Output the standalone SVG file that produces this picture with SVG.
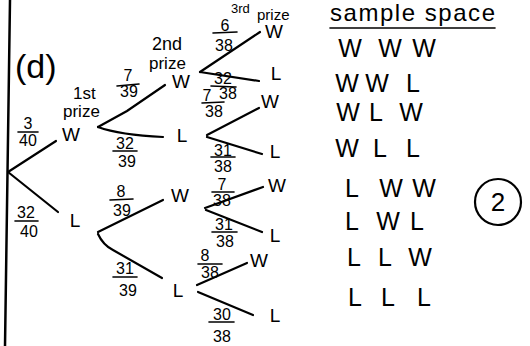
<svg xmlns="http://www.w3.org/2000/svg" width="530" height="346" viewBox="0 0 530 346">
<style>
text{font-family:"Liberation Sans",Arial,sans-serif;fill:#000}
.n{font-size:19px;text-anchor:middle}
.f{font-size:16px;text-anchor:middle}
.s{font-size:25px;text-anchor:middle}
.h{font-size:17px}
line,path,polyline{stroke:#000;stroke-width:2.2;fill:none;stroke-linecap:round}
.fb{stroke-width:1.6}
</style>
<rect width="530" height="346" fill="#fff"/>
<line x1="10" y1="0" x2="5" y2="346" style="stroke-width:2.5"/>
<text x="15" y="78" style="font-size:34px">(d)</text>
<g id="headings">
<text x="73" y="99" class="h">1st</text>
<text x="63" y="117" class="h">prize</text>
<text x="152" y="50" class="h" style="font-size:18px">2nd</text>
<text x="149" y="69" class="h">prize</text>
<text x="231" y="13" class="h" style="font-size:13px">3rd</text>
<text x="257" y="20" class="h" style="font-size:15px">prize</text>
</g>
<g id="connectors">
<polyline points="8,172 56,141"/>
<polyline points="8,172 58,212"/>
<path d="M98,127 L127,111 L165,85"/>
<path d="M98,127 Q120,135 163,137"/>
<path d="M98,232 L163,200"/>
<path d="M98,234 Q103,245 113,250 L162,278"/>
<path d="M200,72 L260,32"/>
<path d="M200,72 L259,81"/>
<path d="M207,135 L259,108"/>
<path d="M207,137 L262,154"/>
<path d="M205,208 L263,187"/>
<path d="M206,210 L262,232"/>
<path d="M197,285 L247,263"/>
<path d="M198,292 L253,315"/>
</g>
<g id="probabilities">
<text x="28" y="129" class="f">3</text><line class="fb" x1="18" y1="132" x2="38" y2="132"/><text x="28" y="146" class="f">40</text>
<text x="26" y="218" class="f">32</text><line class="fb" x1="15" y1="221" x2="38" y2="221"/><text x="29" y="237" class="f">40</text>
<text x="128" y="81" class="f">7</text><line class="fb" x1="117" y1="86" x2="139" y2="84"/><text x="129" y="97" class="f">39</text>
<text x="125" y="149" class="f">32</text><line class="fb" x1="113" y1="151" x2="137" y2="151"/><text x="127" y="167" class="f">39</text>
<text x="121" y="197" class="f">8</text><line class="fb" x1="110" y1="200" x2="133" y2="199"/><text x="122" y="216" class="f">39</text>
<text x="125" y="274" class="f">31</text><line class="fb" x1="113" y1="277" x2="137" y2="277"/><text x="128" y="296" class="f">39</text>
<text x="225" y="31" class="f">6</text><line class="fb" x1="213" y1="33" x2="237" y2="32"/><text x="224" y="51" class="f">38</text>
<text x="223" y="84" class="f">32</text><line class="fb" x1="211" y1="86" x2="236" y2="87"/><text x="228" y="99" class="f">38</text>
<text x="207" y="101" class="f">7</text><line class="fb" x1="202" y1="103" x2="224" y2="102"/><text x="214" y="117" class="f">38</text>
<text x="223" y="156" class="f">31</text><line class="fb" x1="211" y1="157" x2="235" y2="157"/><text x="223" y="172" class="f">38</text>
<text x="222" y="190" class="f">7</text><line class="fb" x1="212" y1="192" x2="234" y2="192"/><text x="222" y="206" class="f">38</text>
<text x="224" y="230" class="f">31</text><line class="fb" x1="212" y1="232" x2="237" y2="232"/><text x="225" y="247" class="f">38</text>
<text x="205" y="261" class="f">8</text><line class="fb" x1="198" y1="264" x2="222" y2="264"/><text x="210" y="278" class="f">38</text>
<text x="222" y="320" class="f">30</text><line class="fb" x1="209" y1="322" x2="234" y2="322"/><text x="222" y="342" class="f">38</text>
</g>
<g id="node-W1"><text x="71" y="141" class="n">W</text></g>
<g id="node-L1"><text x="75" y="227" class="n">L</text></g>
<g id="node-WW"><text x="181" y="88" class="n">W</text></g>
<g id="node-WL"><text x="182" y="142" class="n">L</text></g>
<g id="node-LW"><text x="180" y="202" class="n">W</text></g>
<g id="node-LL"><text x="178" y="297" class="n">L</text></g>
<g id="node-WWW"><text x="274" y="38" class="n">W</text></g>
<g id="node-WWL"><text x="276" y="80" class="n">L</text></g>
<g id="node-WLW"><text x="270" y="108" class="n">W</text></g>
<g id="node-WLL"><text x="275" y="158" class="n">L</text></g>
<g id="node-LWW"><text x="277" y="192" class="n">W</text></g>
<g id="node-LWL"><text x="275" y="242" class="n">L</text></g>
<g id="node-LLW"><text x="259" y="267" class="n">W</text></g>
<g id="node-LLL"><text x="275" y="322" class="n">L</text></g>
<g id="sample-space">
<text x="330" y="21" style="font-size:24px" textLength="165">sample space</text>
<line x1="330" y1="28" x2="495" y2="28" class="fb"/>
<text class="s" x="350 390 424" y="57">WWW</text>
<text class="s" x="347 377 413" y="92">WWL</text>
<text class="s" x="348 376 411" y="121">WLW</text>
<text class="s" x="347 380 413" y="157">WLL</text>
<text class="s" x="352 391 424" y="197">LWW</text>
<text class="s" x="352 388 417" y="230">LWL</text>
<text class="s" x="354 385 420" y="266">LLW</text>
<text class="s" x="355 388 424" y="306">LLL</text>
</g>
<g id="mark">
<circle cx="498" cy="202" r="23" style="stroke:#000;stroke-width:2.2;fill:none"/>
<text x="498" y="211" style="font-size:26px;text-anchor:middle">2</text>
</g>
</svg>
